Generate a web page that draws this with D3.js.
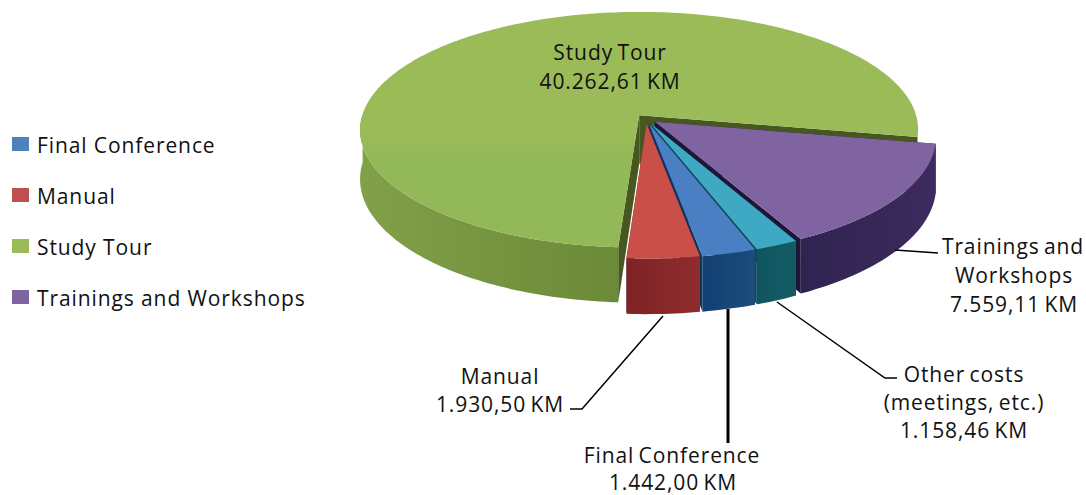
<!DOCTYPE html>
<html>
<head>
<meta charset="utf-8">
<script src="https://cdn.jsdelivr.net/npm/d3@7"></script>
<style>
html, body { margin: 0; padding: 0; background: #fff; overflow: hidden; }
text { font-family: "Open Sans", sans-serif; fill: #111; }
</style>
</head>
<body>
<div id="chart"></div>
<script>
// Data, clockwise from where the first slice starts
const sliceNames = ["Trainings and Workshops", "Other costs", "Final Conference", "Manual", "Study Tour"];
const sliceValues = [7559.11, 1158.46, 1442.00, 1930.50, 40262.61];
const legendNames = ["Final Conference", "Manual", "Study Tour", "Trainings and Workshops"];
const legendColors = ["#4f81bd", "#c0504d", "#9bbb59", "#8064a2"];

const topColors = ["#8064a2", "#3fa9c4", "#4a7fc4", "#cb4f49", "url(#studyTop)"];
const sideColors = [["#2f2350", "#3c2b5e"], ["#0f5560", "#135c66"], ["#123f72", "#1d4d7c"], ["#7f2326", "#8f2c2c"], ["#82a048", "#6b8a38"]];
const wallColors = ["#1e1638", "#0e4a55", "#10345f", "#6b1d20", "#46581f"];

// Set dimensions
const width = 1086, height = 495;
const cx = 646, cy = 119, rx = 278, ry = 117, persp = 0.123, depth = 48.5, explode = 0.04;

const svg = d3.select("#chart").append("svg")
    .attr("width", width)
    .attr("height", height);

const kmFormat = d3.formatLocale({decimal: ",", thousands: ".", grouping: [3], currency: ["", ""]}).format(",.2f");

// Tilted disc to screen
function project(u, v, drop) {
    const s = 1 / (1 - persp * v);
    return [cx + rx * u * s, cy + ry * v * s + (drop ? depth * s : 0)];
}

const pie = d3.pie().sort(null).startAngle(100.5 * Math.PI / 180).endAngle((100.5 + 360) * Math.PI / 180);
const arcs = pie(sliceValues);
const line = d3.line();

const defs = svg.append("defs");

// Lower half of the big slice is a touch brighter
const studyTop = defs.append("linearGradient")
    .attr("id", "studyTop")
    .attr("gradientUnits", "userSpaceOnUse")
    .attr("x1", 0).attr("x2", 0)
    .attr("y1", 130).attr("y2", 160);
studyTop.append("stop").attr("offset", 0).attr("stop-color", "#9bbb59");
studyTop.append("stop").attr("offset", 1).attr("stop-color", "#93b857");

// Dark cut face near the centre that fades out lower down
const wallFade = defs.append("linearGradient")
    .attr("id", "wallFade")
    .attr("gradientUnits", "userSpaceOnUse")
    .attr("x1", 0).attr("x2", 0)
    .attr("y1", 115).attr("y2", 180);
wallFade.append("stop").attr("offset", 0).attr("stop-color", "#46581f");
wallFade.append("stop").attr("offset", 0.7).attr("stop-color", "#46581f");
wallFade.append("stop").attr("offset", 1).attr("stop-color", "#46581f").attr("stop-opacity", 0);

// Back slice first, the front ones paint over it
[4, 0, 1, 2, 3].forEach(i => {
    const d = arcs[i];
    const mid = (d.startAngle + d.endAngle) / 2;
    const ou = explode * Math.sin(mid), ov = -explode * Math.cos(mid);
    const n = Math.ceil((d.endAngle - d.startAngle) / 0.02);
    const angles = d3.range(n + 1).map(k => d.startAngle + (d.endAngle - d.startAngle) * k / n);
    const toRim = (a, drop) => project(ou + Math.sin(a), ov - Math.cos(a), drop);
    const apex = drop => project(ou, ov, drop);

    const g = svg.append("g").attr("class", "slice");

    // Cut faces
    [d.startAngle, d.endAngle].forEach((a, k) => {
        g.append("path")
            .attr("d", line([apex(false), toRim(a, false), toRim(a, true), apex(true)]) + "Z")
            .attr("fill", i === 4 && k === 1 ? "url(#wallFade)" : wallColors[i]);
    });

    // Outer face: the part of the rim that faces the viewer (the big slice's
    // other run sits behind the purple one anyway)
    const front = angles.filter(a => Math.cos(a) < 0.02 && a < 1.5 * Math.PI + 0.1);
    const xs = front.map(a => toRim(a, false)[0]);
    const grad = defs.append("linearGradient")
        .attr("id", "side" + i)
        .attr("gradientUnits", "userSpaceOnUse")
        .attr("x1", d3.min(xs)).attr("x2", d3.max(xs))
        .attr("y1", 0).attr("y2", 0);
    grad.append("stop").attr("offset", 0).attr("stop-color", sideColors[i][0]);
    grad.append("stop").attr("offset", 1).attr("stop-color", sideColors[i][1]);

    g.append("path")
        .attr("d", line(front.map(a => toRim(a, false)).concat(front.map(a => toRim(a, true)).reverse())) + "Z")
        .attr("fill", `url(#side${i})`);

    g.append("path")
        .attr("d", line([apex(false)].concat(angles.map(a => toRim(a, false)))) + "Z")
        .attr("fill", topColors[i]);
});

// Leader lines
const leaders = [
    {pts: [[895, 250], [938, 253]], w: 1.5},
    {pts: [[777, 302], [885, 378], [897, 378]], w: 1.5},
    {pts: [[728, 309], [728, 443]], w: 3},
    {pts: [[663, 316], [582, 409], [570, 409]], w: 1.5}
];
svg.selectAll(".leader")
    .data(leaders)
    .enter()
    .append("path")
    .attr("class", "leader")
    .attr("d", d => line(d.pts))
    .attr("fill", "none")
    .attr("stroke", "#000")
    .attr("stroke-width", d => d.w);

// Data labels
const valueLabel = i => kmFormat(sliceValues[i]) + " KM";
const labels = [
    {x: 610, y: 60, t: sliceNames[4]},
    {x: 610, y: 89, t: valueLabel(4)},
    {x: 1013, y: 254, t: "Trainings and"},
    {x: 1014, y: 283, t: "Workshops"},
    {x: 1014, y: 312, t: valueLabel(0)},
    {x: 964, y: 382, t: sliceNames[1]},
    {x: 964, y: 410, t: "(meetings, etc.)"},
    {x: 964, y: 438, t: valueLabel(1)},
    {x: 500, y: 384, t: sliceNames[3]},
    {x: 500, y: 412, t: valueLabel(3)},
    {x: 672, y: 463, t: sliceNames[2]},
    {x: 673, y: 490, t: valueLabel(2)}
];
svg.selectAll(".label")
    .data(labels)
    .enter()
    .append("text")
    .attr("class", "label")
    .attr("x", d => d.x)
    .attr("y", d => d.y)
    .attr("text-anchor", "middle")
    .style("font-size", "21px")
    .style("letter-spacing", "0.9px")
    .style("word-spacing", "-2px")
    .text(d => d.t);

// Legend
const legendY = d3.scalePoint().domain(legendNames).range([137, 290]);
const legendItems = svg.selectAll(".legend-item")
    .data(legendNames)
    .enter()
    .append("g")
    .attr("class", "legend-item")
    .attr("transform", d => `translate(12, ${legendY(d)})`);

legendItems.append("rect")
    .attr("width", 17)
    .attr("height", 14)
    .attr("fill", (d, i) => legendColors[i]);

legendItems.append("text")
    .attr("x", 25)
    .attr("y", 15.5)
    .style("font-size", "21px")
    .style("letter-spacing", "0.9px")
    .text(d => d);
</script>
</body>
</html>
